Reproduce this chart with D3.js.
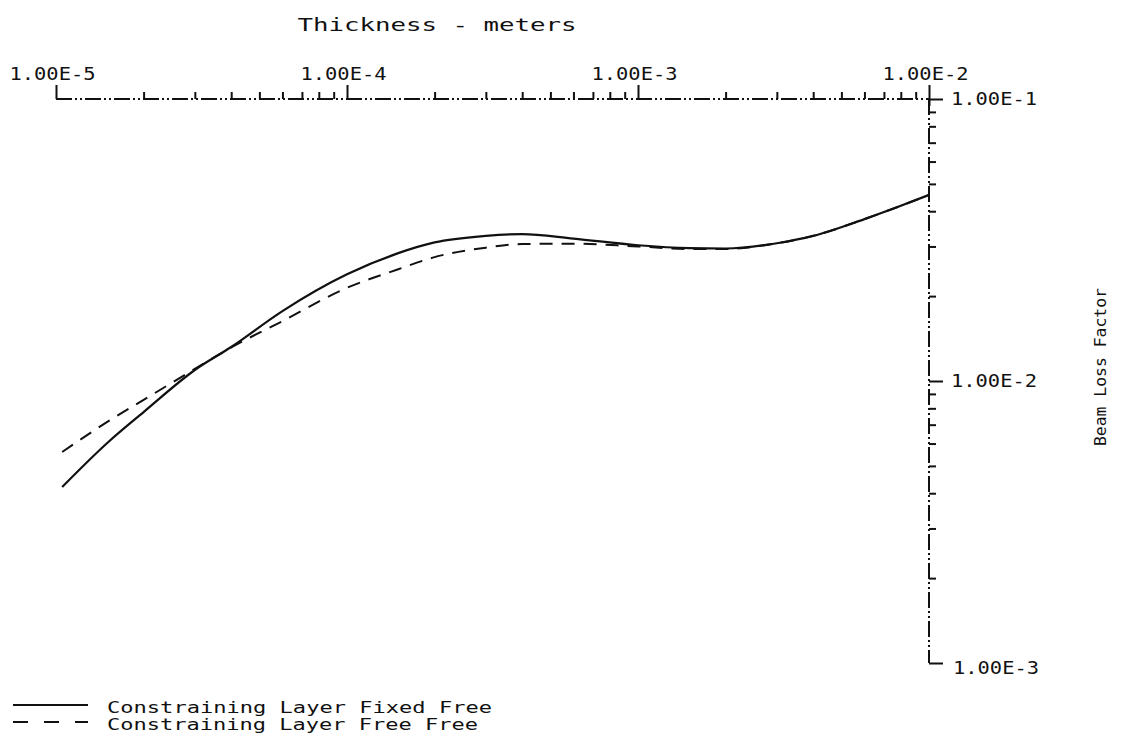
<!DOCTYPE html>
<html>
<head>
<meta charset="utf-8">
<script src="https://cdn.jsdelivr.net/npm/d3@7/dist/d3.min.js"></script>
<style>
  html, body { margin: 0; padding: 0; background: #fff; }
  svg { display: block; }
  text { font-family: "DejaVu Sans Mono", "Liberation Mono", monospace; fill: #111; }
</style>
</head>
<body>
<svg id="chart" width="1125" height="746"></svg>
<script>
// Beam loss factor against constraining-layer thickness (log-log)
const thickness = [1.05e-5, 1.5e-5, 2e-5, 3e-5, 4e-5, 6e-5, 1e-4, 1.5e-4, 2e-4, 3e-4,
                   4e-4, 6e-4, 1e-3, 1.5e-3, 2e-3, 3e-3, 4e-3, 6e-3, 8e-3, 1e-2];
const fixedFree = [4.21e-3, 6.03e-3, 7.76e-3, 1.094e-2, 1.32e-2, 1.77e-2, 2.39e-2, 2.84e-2, 3.10e-2, 3.27e-2,
                   3.32e-2, 3.20e-2, 3.03e-2, 2.96e-2, 2.95e-2, 3.08e-2, 3.27e-2, 3.75e-2, 4.18e-2, 4.57e-2];
const freeFree  = [5.60e-3, 7.16e-3, 8.57e-3, 1.104e-2, 1.315e-2, 1.63e-2, 2.14e-2, 2.49e-2, 2.75e-2, 2.97e-2,
                   3.06e-2, 3.07e-2, 3.00e-2, 2.94e-2, 2.94e-2, 3.08e-2, 3.27e-2, 3.75e-2, 4.18e-2, 4.57e-2];

const xMajor = [1e-5, 1e-4, 1e-3, 1e-2];
const xMajorLabels = ["1.00E-5", "1.00E-4", "1.00E-3", "1.00E-2"];
const yMajor = [1e-1, 1e-2, 1e-3];
const yMajorLabels = ["1.00E-1", "1.00E-2", "1.00E-3"];

const seriesNames = ["Constraining Layer Fixed Free", "Constraining Layer Free Free"];
const xTitle = "Thickness - meters";
const yTitle = "Beam Loss Factor";

const svg = d3.select("#chart");
const ink = "#111";

const x = d3.scaleLog().domain([1e-5, 1e-2]).range([56, 929]);
const y = d3.scaleLog().domain([1e-3, 1e-1]).range([663, 99]);

// minor ticks: 2..9 within each decade
function minorTicks(lo, hi) {
  const out = [];
  for (let e = Math.log10(lo); e < Math.log10(hi); e++) {
    for (let k = 2; k <= 9; k++) out.push(k * Math.pow(10, e));
  }
  return out;
}

const axisStroke = "16,3,2,3,2,3";

// top axis
const topG = svg.append("g").attr("transform", `translate(0,${y(1e-1)})`);
topG.append("line")
  .attr("x1", x(1e-5)).attr("x2", x(1e-2)).attr("y1", 0).attr("y2", 0)
  .attr("stroke", ink).attr("stroke-width", 2).attr("stroke-dasharray", axisStroke);
const topMinor = topG.append("g").call(d3.axisTop(x).tickValues(minorTicks(1e-5, 1e-2)).tickSize(7).tickFormat(""));
const topMajor = topG.append("g").call(d3.axisTop(x).tickValues(xMajor).tickSize(14).tickPadding(5)
  .tickFormat((d, i) => xMajorLabels[i]));
[topMinor, topMajor].forEach(g => {
  g.select(".domain").remove();
  g.selectAll(".tick line").attr("stroke", ink).attr("stroke-width", 2);
});
topMajor.selectAll(".tick text")
  .attr("dx", -4).attr("font-size", 17).attr("textLength", 86).attr("lengthAdjust", "spacingAndGlyphs").attr("fill", ink);
// the last top tick crosses the line
topMajor.selectAll(".tick").filter(d => d === 1e-2).select("line").attr("y2", -14).attr("y1", 7);

// right axis
const rightG = svg.append("g").attr("transform", `translate(${x(1e-2)},0)`);
rightG.append("line")
  .attr("x1", 0).attr("x2", 0).attr("y1", y(1e-1)).attr("y2", y(1e-3))
  .attr("stroke", ink).attr("stroke-width", 2).attr("stroke-dasharray", axisStroke);
const rMinor = rightG.append("g").call(d3.axisRight(y).tickValues(minorTicks(1e-3, 1e-1)).tickSize(7).tickFormat(""));
const rMajor = rightG.append("g").call(d3.axisRight(y).tickValues(yMajor).tickSize(14).tickPadding(8)
  .tickFormat((d, i) => yMajorLabels[i]));
[rMinor, rMajor].forEach(g => {
  g.select(".domain").remove();
  g.selectAll(".tick line").attr("stroke", ink).attr("stroke-width", 2);
});
rMajor.selectAll(".tick text")
  .attr("font-size", 17).attr("textLength", 86).attr("lengthAdjust", "spacingAndGlyphs").attr("fill", ink);
rMajor.selectAll(".tick").filter(d => d === 1e-3).select("text").attr("dy", "0.6em").attr("x", 24);

// axis titles
svg.append("text")
  .attr("x", 437).attr("y", 31).attr("text-anchor", "middle")
  .attr("font-size", 17).attr("textLength", 279).attr("lengthAdjust", "spacingAndGlyphs")
  .text(xTitle);
svg.append("text")
  .attr("transform", `translate(1106,367) rotate(-90)`)
  .attr("text-anchor", "middle")
  .attr("font-size", 16).attr("textLength", 158).attr("lengthAdjust", "spacingAndGlyphs")
  .text(yTitle);

// curves
const line = d3.line()
  .x(d => x(d[0]))
  .y(d => y(d[1]))
  .curve(d3.curveMonotoneX);

svg.append("path")
  .datum(d3.zip(thickness, freeFree))
  .attr("d", line)
  .attr("fill", "none").attr("stroke", ink).attr("stroke-width", 2)
  .attr("stroke-dasharray", "13,9");

svg.append("path")
  .datum(d3.zip(thickness, fixedFree))
  .attr("d", line)
  .attr("fill", "none").attr("stroke", ink).attr("stroke-width", 2.2);

// legend
const legend = svg.append("g");
const legendRows = [
  { name: seriesNames[0], dash: null, y: 705 },
  { name: seriesNames[1], dash: "15,16", y: 722 }
];
legendRows.forEach((r, i) => {
  legend.append("line")
    .attr("x1", 13).attr("x2", 88).attr("y1", r.y).attr("y2", r.y)
    .attr("stroke", ink).attr("stroke-width", 2)
    .attr("stroke-dasharray", r.dash);
  legend.append("text")
    .attr("x", 107).attr("y", r.y + 8)
    .attr("font-size", 15)
    .attr("textLength", i === 0 ? 385 : 371).attr("lengthAdjust", "spacingAndGlyphs")
    .text(r.name);
});
</script>
</body>
</html>
